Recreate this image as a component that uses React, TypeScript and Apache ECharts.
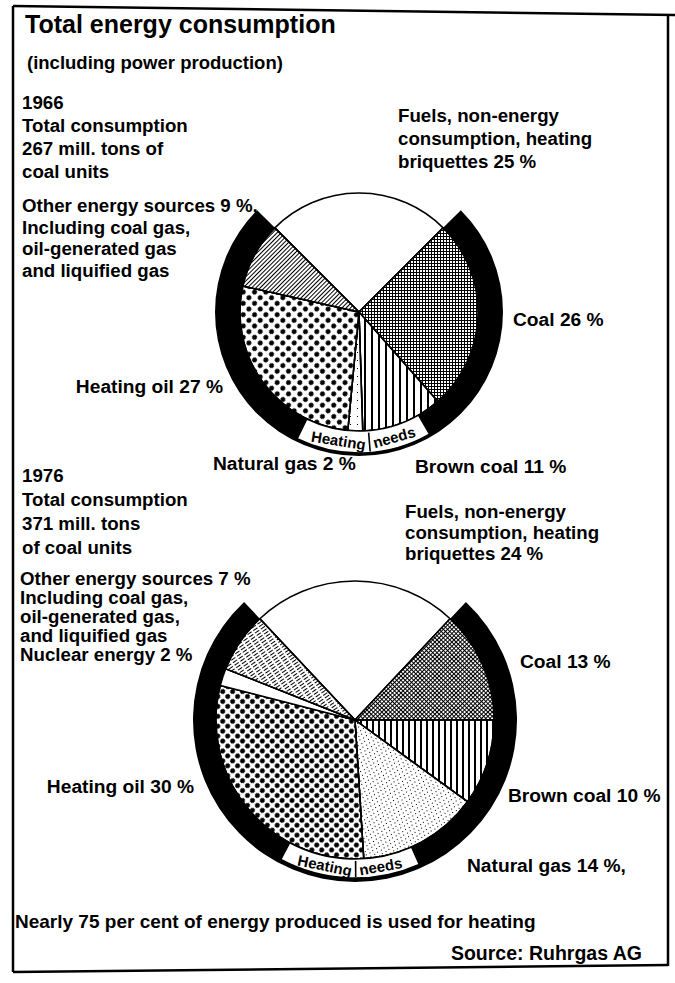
import React, { useEffect, useRef } from 'react';
import * as echarts from 'echarts';

// ---- Data ----
const CAT_1966 = ['Fuels, non-energy consumption, heating briquettes', 'Coal', 'Brown coal', 'Natural gas', 'Heating oil', 'Other energy sources'];
const VAL_1966 = [25, 26, 11, 2, 27, 9];
const CAT_1976 = ['Fuels, non-energy consumption, heating briquettes', 'Coal', 'Brown coal', 'Natural gas', 'Heating oil', 'Nuclear energy', 'Other energy sources'];
const VAL_1976 = [24, 13, 10, 14, 30, 2, 7];

// ---- Texts ----
const TITLE = 'Total energy consumption';
const SUBTITLE = '(including power production)';
const HEAD_1966 = '1966\nTotal consumption\n267 mill. tons of\ncoal units';
const HEAD_1976 = '1976\nTotal consumption\n371 mill. tons\nof coal units';
const OTHER_1966 = 'Other energy sources 9 %,\nIncluding coal gas,\noil-generated gas\nand liquified gas';
const OTHER_1976 = 'Other energy sources 7 %\nIncluding coal gas,\noil-generated gas,\nand liquified gas\nNuclear energy 2 %';
const FUELS_1966 = 'Fuels, non-energy\nconsumption, heating\nbriquettes 25 %';
const FUELS_1976 = 'Fuels, non-energy\nconsumption, heating\nbriquettes 24 %';
const FOOTNOTE = 'Nearly 75 per cent of energy produced is used for heating';
const SOURCE = 'Source: Ruhrgas AG';

const FONT = '"Liberation Sans", Arial, Helvetica, sans-serif';

const STYLE_1966: Record<string, any> = {
  'Fuels, non-energy consumption, heating briquettes': { color: '#fff' },
  'Coal': { color: '#000', decal: { symbol: 'rect', symbolSize: 1, color: '#fff', dashArrayX: [2, 1], dashArrayY: [2, 1], rotation: 0 } },
  'Brown coal': { color: '#fff', decal: { symbol: 'rect', symbolSize: 1, color: '#000', dashArrayX: [2, 5], dashArrayY: [10, 0], rotation: 0 } },
  'Natural gas': { color: '#fff', decal: { symbol: 'rect', symbolSize: 1, color: '#000', dashArrayX: [[1, 6]], dashArrayY: [1, 7], rotation: 0 } },
  'Heating oil': { color: '#fff', decal: { symbol: 'circle', symbolSize: 1, color: '#000', dashArrayX: [5, 3], dashArrayY: [5, 3], rotation: Math.PI / 4 } },
  'Other energy sources': { color: '#fff', decal: { symbol: 'rect', symbolSize: 1, color: '#000', dashArrayX: [1, 2], dashArrayY: [10, 0], rotation: Math.PI / 4 } },
};
const STYLE_1976: Record<string, any> = {
  'Fuels, non-energy consumption, heating briquettes': { color: '#fff' },
  'Coal': { color: '#000', decal: { symbol: 'rect', symbolSize: 1, color: '#fff', dashArrayX: [2, 1], dashArrayY: [2, 1], rotation: Math.PI / 4 } },
  'Brown coal': { color: '#fff', decal: { symbol: 'rect', symbolSize: 1, color: '#000', dashArrayX: [2, 4], dashArrayY: [10, 0], rotation: 0 } },
  'Natural gas': { color: '#fff', decal: { symbol: 'rect', symbolSize: 1, color: '#000', dashArrayX: [[1, 4], [0, 2, 1, 2]], dashArrayY: [1, 2], rotation: 0.3 } },
  'Heating oil': { color: '#fff', decal: { symbol: 'circle', symbolSize: 1, color: '#000', dashArrayX: [5, 2], dashArrayY: [5, 2], rotation: Math.PI / 4 } },
  'Nuclear energy': { color: '#fff' },
  'Other energy sources': { color: '#fff', decal: { symbol: 'rect', symbolSize: 1, color: '#000', dashArrayX: [[5, 2]], dashArrayY: [1, 2], rotation: -0.6 } },
};

function pieSeries(cats: string[], vals: number[], styles: Record<string, any>, center: number[], r: number, R: number) {
  const start = 90 + (vals[0] * 3.6) / 2;
  const heating = vals.slice(1).reduce((a, b) => a + b, 0);
  return [
    {
      type: 'pie', center, radius: [0, r], startAngle: start, clockwise: true, silent: true,
      label: { show: false }, labelLine: { show: false }, emphasis: { disabled: true }, z: 2,
      data: cats.map((name, i) => ({
        name, value: vals[i],
        itemStyle: { ...styles[name], borderColor: '#000', borderWidth: 1.5 },
      })),
    },
    {
      type: 'pie', center, radius: [r, R], startAngle: start, clockwise: true, silent: true,
      label: { show: false }, labelLine: { show: false }, emphasis: { disabled: true }, z: 1,
      data: [
        { name: 'non-heating', value: vals[0], itemStyle: { color: 'rgba(0,0,0,0)', borderWidth: 0 } },
        { name: 'Heating needs', value: heating, itemStyle: { color: '#000', borderWidth: 0 } },
      ],
    },
  ];
}

function heatingNeeds(cx: number, cy: number, r0: number, r1: number, th1: number, th2: number, tr: number, thc: number, fs: number) {
  const d2r = Math.PI / 180;
  const font = `bold ${fs}px ${FONT}`;
  const ctx = document.createElement('canvas').getContext('2d')!;
  ctx.font = font;
  const w1 = ctx.measureText('Heating').width;
  const w2 = ctx.measureText('needs').width;
  const gap = 7;
  const total = w1 + gap + w2;
  const thAt = (s: number) => thc + ((total / 2 - s) / tr) / d2r;
  const pt = (th: number, rr: number) => [cx + rr * Math.sin(th * d2r), cy - rr * Math.cos(th * d2r)];
  const els: any[] = [];
  els.push({
    type: 'sector', z: 10,
    shape: { cx, cy, r0, r: r1, startAngle: (th1 - 90) * d2r, endAngle: (th2 - 90) * d2r, clockwise: true },
    style: { fill: '#fff', stroke: '#000', lineWidth: 1.5 },
  });
  const word = (text: string, s: number) => {
    const th = thAt(s);
    const [x, y] = pt(th, tr);
    return { type: 'text', z: 11, x, y, rotation: (180 - th) * d2r, style: { text, font, fill: '#000', align: 'center', verticalAlign: 'middle' } };
  };
  els.push(word('Heating', w1 / 2));
  els.push(word('needs', w1 + gap + w2 / 2));
  const thd = thAt(w1 + gap / 2);
  const [x1, y1] = pt(thd, r0 + 2);
  const [x2, y2] = pt(thd, r1 - 1);
  els.push({ type: 'line', z: 11, shape: { x1, y1, x2, y2 }, style: { stroke: '#000', lineWidth: 1.6 } });
  return els;
}

function txt(text: string, x: number, y: number, fs: number, lh: number, align: string = 'left') {
  return {
    type: 'text', x, y, z: 20,
    style: { text, font: `bold ${fs}px ${FONT}`, lineHeight: lh, fill: '#000', align, verticalAlign: 'top' },
  };
}

export default function App() {
  const ref = useRef<HTMLDivElement>(null);
  useEffect(() => {
    if (!ref.current) return;
    const chart = echarts.init(ref.current, undefined, { renderer: 'svg' });
    const c66 = [359, 312];
    const c76 = [355, 720];
    const B = 18.7;
    const L = 19.2;
    const option: any = {
      animation: false,
      backgroundColor: '#fff',
      series: [
        ...pieSeries(CAT_1966, VAL_1966, STYLE_1966, c66, 119, 144),
        ...pieSeries(CAT_1976, VAL_1976, STYLE_1976, c76, 139, 162),
      ],
      graphic: {
        elements: [
          { type: 'polyline', shape: { points: [[13, 6], [675, 15]] }, style: { stroke: '#000', lineWidth: 2.5, fill: null } },
          { type: 'polyline', shape: { points: [[13, 6], [13, 972]] }, style: { stroke: '#000', lineWidth: 2.5, fill: null } },
          { type: 'polyline', shape: { points: [[668, 14], [668, 966]] }, style: { stroke: '#000', lineWidth: 2.5, fill: null } },
          { type: 'polyline', shape: { points: [[13, 972], [668, 965]] }, style: { stroke: '#000', lineWidth: 2.5, fill: null } },
          txt(TITLE, 25, 10, 25, 28),
          txt(SUBTITLE, 27, 52, 18.5, 21),
          txt(HEAD_1966, 22, 91, B, 23),
          txt(OTHER_1966, 22, 195, B, 21.5),
          txt(FUELS_1966, 398, 104, B, 23),
          txt('Coal 26 %', 513, 308, L, 22),
          txt('Heating oil 27 %', 223, 375, L, 22, 'right'),
          txt('Natural gas 2 %', 213, 452, L, 22),
          txt('Brown coal 11 %', 415, 455, L, 22),
          txt(HEAD_1976, 22, 463, B, 24),
          txt(OTHER_1976, 20, 569, B, 19),
          txt(FUELS_1976, 405, 501, B, 21),
          txt('Coal 13 %', 520, 650, L, 22),
          txt('Heating oil 30 %', 194, 775, L, 22, 'right'),
          txt('Brown coal 10 %', 508, 784, L, 22),
          txt('Natural gas 14 %,', 467, 854, L, 22),
          txt(FOOTNOTE, 15, 910, 19, 22),
          txt(SOURCE, 642, 942, 19.5, 22, 'right'),
          ...heatingNeeds(c66[0], c66[1], 119, 141, 150, 206, 130, 178, 15),
          ...heatingNeeds(c76[0], c76[1], 139, 158, 156, 208, 148.5, 182, 15),
        ],
      },
    };
    chart.setOption(option);
    return () => chart.dispose();
  }, []);
  return <div ref={ref} style={{ position: 'absolute', left: 0, top: 0, width: 675, height: 983, background: '#fff' }} />;
}
